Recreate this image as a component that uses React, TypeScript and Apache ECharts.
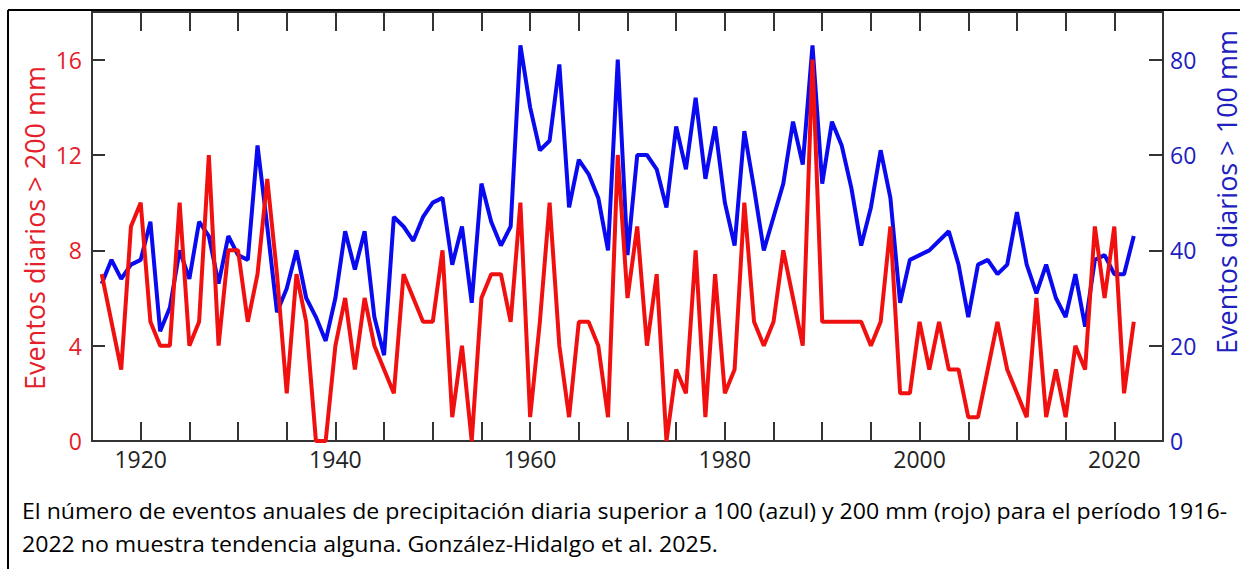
import React, { useEffect, useRef } from "react";
import * as echarts from "echarts";

const startYear = 1916;
const endYear = 2022;

// Eventos diarios > 200 mm (rojo, eje izquierdo)
const red200: number[] = [
  7, 5, 3, 9, 10, 5, 4, 4, 10, 4, // 1916-1925
  5, 12, 4, 8, 8, 5, 7, 11, 7, 2, // 1926-1935
  7, 5, 0, 0, 4, 6, 3, 6, 4, 3, // 1936-1945
  2, 7, 6, 5, 5, 8, 1, 4, 0, 6, // 1946-1955
  7, 7, 5, 10, 1, 5, 10, 4, 1, 5, // 1956-1965
  5, 4, 1, 12, 6, 9, 4, 7, 0, 3, // 1966-1975
  2, 8, 1, 7, 2, 3, 10, 5, 4, 5, // 1976-1985
  8, 6, 4, 16, 5, 5, 5, 5, 5, 4, // 1986-1995
  5, 9, 2, 2, 5, 3, 5, 3, 3, 1, // 1996-2005
  1, 3, 5, 3, 2, 1, 6, 1, 3, 1, // 2006-2015
  4, 3, 9, 6, 9, 2, 5, // 2016-2022
];

// Eventos diarios > 100 mm (azul, eje derecho)
const blue100: number[] = [
  33, 38, 34, 37, 38, 46, 23, 28, 40, 34, // 1916-1925
  46, 43, 33, 43, 39, 38, 62, 45, 27, 32, // 1926-1935
  40, 30, 26, 21, 30, 44, 36, 44, 26, 18, // 1936-1945
  47, 45, 42, 47, 50, 51, 37, 45, 29, 54, // 1946-1955
  46, 41, 45, 83, 70, 61, 63, 79, 49, 59, // 1956-1965
  56, 51, 40, 80, 39, 60, 60, 57, 49, 66, // 1966-1975
  57, 72, 55, 66, 50, 41, 65, 53, 40, 47, // 1976-1985
  54, 67, 58, 83, 54, 67, 62, 53, 41, 49, // 1986-1995
  61, 51, 29, 38, 39, 40, 42, 44, 37, 26, // 1996-2005
  37, 38, 35, 37, 48, 37, 31, 37, 30, 26, // 2006-2015
  35, 24, 38, 39, 35, 35, 43, // 2016-2022
];

const leftTicks = [0, 4, 8, 12, 16];
const rightTicks = [0, 20, 40, 60, 80];
const yearLabels = [1920, 1940, 1960, 1980, 2000, 2020];

const leftTitle = "Eventos diarios > 200 mm";
const rightTitle = "Eventos diarios > 100 mm";
const captionLine1 =
  "El número de eventos anuales de precipitación diaria superior a 100 (azul) y 200 mm (rojo) para el período 1916-";
const captionLine2 = "2022 no muestra tendencia alguna. González-Hidalgo et al. 2025.";

const RED = "#f01010";
const BLUE = "#0a0af0";
const RED_TXT = "#e5202a";
const BLUE_TXT = "#2020c0";
const FONT = "'Open Sans', 'Noto Sans', sans-serif";

export default function App() {
  const ref = useRef<HTMLDivElement>(null);

  useEffect(() => {
    if (!ref.current) return;
    const chart = echarts.init(ref.current, null, { renderer: "svg" });

    const years: number[] = [];
    for (let y = startYear; y <= endYear; y++) years.push(y);
    const redData = years.map((y, i) => [y, red200[i]]);
    const blueData = years.map((y, i) => [y, blue100[i]]);

    const xCommon = {
      type: "value" as const,
      min: 1915,
      max: 2025,
      interval: 5,
      splitLine: { show: false },
      axisLine: { show: true, onZero: false, lineStyle: { color: "#333", width: 2 } },
      axisTick: { show: true, inside: true, length: 19, lineStyle: { color: "#333", width: 2 } },
    };

    chart.setOption({
      animation: false,
      backgroundColor: "#ffffff",
      grid: { left: 92, right: 81, top: 12, bottom: 128, containLabel: false },
      xAxis: [
        {
          ...xCommon,
          position: "bottom",
          axisLabel: {
            show: true,
            margin: 6,
            color: "#222",
            fontFamily: FONT,
            fontSize: 23,
            formatter: (v: number) => (yearLabels.includes(v) ? String(v) : ""),
          },
        },
        {
          ...xCommon,
          position: "top",
          axisLabel: { show: false },
        },
      ],
      yAxis: [
        {
          type: "value",
          position: "left",
          min: 0,
          max: 18,
          interval: 4,
          splitLine: { show: false },
          axisLine: { show: true, lineStyle: { color: "#333", width: 2 } },
          axisTick: { show: true, inside: true, length: 13, lineStyle: { color: "#333", width: 2 } },
          axisLabel: {
            margin: 10,
            color: RED_TXT,
            fontFamily: FONT,
            fontSize: 23,
            formatter: (v: number) => (leftTicks.includes(v) ? String(v) : ""),
          },
        },
        {
          type: "value",
          position: "right",
          min: 0,
          max: 90,
          interval: 20,
          splitLine: { show: false },
          axisLine: { show: true, lineStyle: { color: "#333", width: 2 } },
          axisTick: { show: true, inside: true, length: 14, lineStyle: { color: "#333", width: 2 } },
          axisLabel: {
            margin: 7,
            color: BLUE_TXT,
            fontFamily: FONT,
            fontSize: 23,
            formatter: (v: number) => (rightTicks.includes(v) ? String(v) : ""),
          },
        },
      ],
      series: [
        {
          name: "100 mm",
          type: "line",
          xAxisIndex: 0,
          yAxisIndex: 1,
          data: blueData,
          showSymbol: false,
          symbol: "none",
          lineStyle: { color: BLUE, width: 4 },
          itemStyle: { color: BLUE },
        },
        {
          name: "200 mm",
          type: "line",
          xAxisIndex: 0,
          yAxisIndex: 0,
          data: redData,
          showSymbol: false,
          symbol: "none",
          lineStyle: { color: RED, width: 4 },
          itemStyle: { color: RED },
        },
      ],
      graphic: [
        {
          type: "line",
          shape: { x1: 8, y1: 10, x2: 1240, y2: 10 },
          style: { stroke: "#000", lineWidth: 2 },
          silent: true,
        },
        {
          type: "line",
          shape: { x1: 8, y1: 10, x2: 8, y2: 569 },
          style: { stroke: "#000", lineWidth: 2 },
          silent: true,
        },
        {
          type: "text",
          x: 34,
          y: 228,
          rotation: Math.PI / 2,
          style: {
            text: leftTitle,
            fill: RED_TXT,
            font: `27px ${FONT}`,
            textAlign: "center",
            textVerticalAlign: "middle",
          },
          silent: true,
        },
        {
          type: "text",
          x: 1226,
          y: 192,
          rotation: Math.PI / 2,
          style: {
            text: rightTitle,
            fill: BLUE_TXT,
            font: `27px ${FONT}`,
            textAlign: "center",
            textVerticalAlign: "middle",
          },
          silent: true,
        },
        {
          type: "text",
          x: 22,
          y: 510,
          scaleX: 1.1,
          style: {
            text: captionLine1,
            fill: "#000",
            font: `21px ${FONT}`,
            textAlign: "left",
            textVerticalAlign: "middle",
          },
          silent: true,
        },
        {
          type: "text",
          x: 22,
          y: 543,
          scaleX: 1.1,
          style: {
            text: captionLine2,
            fill: "#000",
            font: `21px ${FONT}`,
            textAlign: "left",
            textVerticalAlign: "middle",
          },
          silent: true,
        },
      ],
    });

    return () => chart.dispose();
  }, []);

  return (
    <div
      ref={ref}
      style={{ position: "absolute", left: 0, top: 0, width: 1244, height: 569, background: "#fff" }}
    />
  );
}
